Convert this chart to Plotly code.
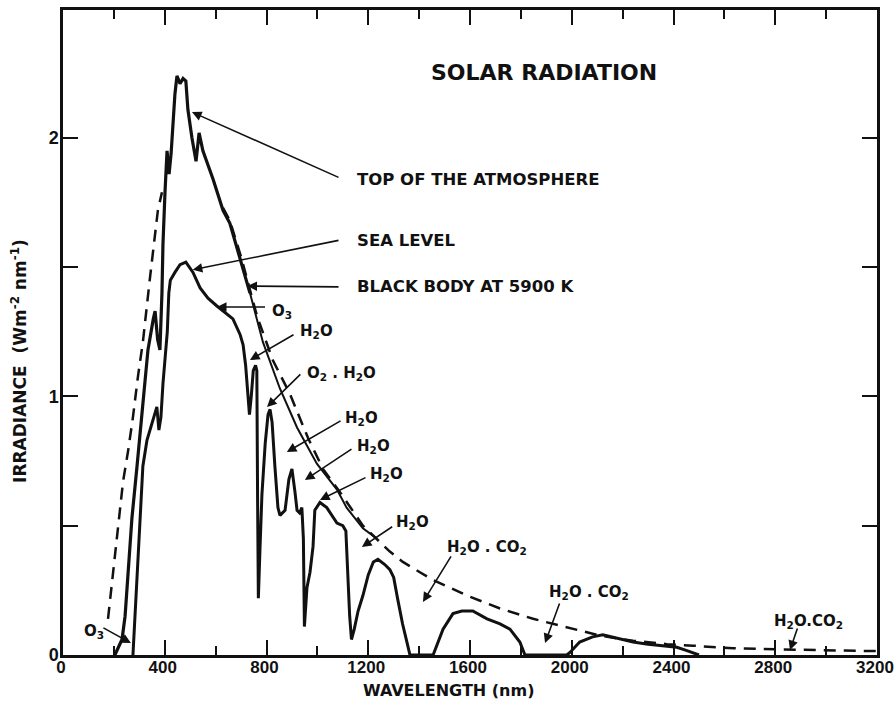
"""
Solar radiation spectrum: top of the atmosphere, sea level and a 5900 K black body.
"""

import plotly.graph_objects as go

# ── data (wavelength in nm, irradiance in W m-2 nm-1) ──

TOA_WL = [204, 232, 244, 256, 271, 291, 310, 322, 334, 355, 362, 372, 381, 389,
          393, 401, 409, 417, 425, 440, 448, 460, 472, 483, 491, 507, 523, 535,
          550, 590, 629, 656, 683, 708, 735, 786, 853, 920, 998, 1077, 1115,
          1179, 1234]
TOA_IRR = [0.0, 0.06, 0.15, 0.34, 0.53, 0.73, 0.92, 1.05, 1.18, 1.30, 1.33, 1.22,
           1.18, 1.40, 1.59, 1.79, 1.95, 1.86, 1.94, 2.17, 2.24, 2.21, 2.23, 2.22,
           2.11, 2.00, 1.91, 2.02, 1.95, 1.84, 1.72, 1.67, 1.58, 1.50, 1.40, 1.21,
           1.03, 0.88, 0.74, 0.64, 0.57, 0.49, 0.45]
TOA_THICK_END = 735  # thick stroke up to here, thin beyond

SEA_WL = [275, 290, 302, 314, 330, 342, 362, 369, 377, 385, 393, 401, 410, 416,
          422, 440, 460, 483, 511, 539, 570, 605, 645, 668, 696, 708, 718, 726,
          733, 740, 748, 757, 762, 765, 768, 774, 782, 795, 806, 814, 822, 833,
          845, 853, 873, 888, 900, 912, 920, 930, 939, 945, 949, 959, 971, 983,
          990, 1010, 1037, 1077, 1100, 1112, 1119, 1127, 1134, 1145, 1160, 1179,
          1200, 1220, 1238, 1265, 1285, 1300, 1315, 1335, 1352, 1364, 1455, 1494,
          1533, 1568, 1611, 1667, 1718, 1757, 1796, 1816, 1981, 1993, 2031, 2082,
          2122, 2176, 2241, 2300, 2374, 2413, 2450, 2477, 2500]
SEA_IRR = [0.0, 0.28, 0.53, 0.73, 0.83, 0.87, 0.94, 0.96, 0.87, 0.92, 1.05, 1.16,
           1.25, 1.40, 1.45, 1.48, 1.51, 1.52, 1.48, 1.42, 1.38, 1.35, 1.32, 1.30,
           1.24, 1.20, 1.12, 1.00, 0.93, 1.00, 1.10, 1.12, 1.10, 0.60, 0.22, 0.40,
           0.62, 0.82, 0.93, 0.95, 0.90, 0.73, 0.57, 0.54, 0.56, 0.68, 0.72, 0.63,
           0.56, 0.55, 0.57, 0.45, 0.11, 0.26, 0.32, 0.42, 0.56, 0.59, 0.57, 0.51,
           0.50, 0.48, 0.30, 0.15, 0.06, 0.10, 0.17, 0.23, 0.31, 0.36, 0.37, 0.35,
           0.33, 0.30, 0.22, 0.12, 0.05, 0.0, 0.0, 0.10, 0.16, 0.17, 0.17, 0.14,
           0.12, 0.10, 0.05, 0.0, 0.0, 0.01, 0.05, 0.07, 0.078, 0.066, 0.05, 0.042,
           0.036, 0.03, 0.018, 0.008, 0.0]

# black body: drawn up to where it meets the TOA curve, hidden under the
# peak, then visible again from the red flank onwards
BB_WL = [177, 193, 212, 236, 256, 275, 295, 314, 342, 373, 389,
         629, 656, 700, 763, 825, 892, 963, 1022, 1089, 1179, 1285, 1336, 1403,
         1455, 1588, 1718, 1848, 1981, 2111, 2241, 2374, 2477, 2635, 2800, 3000,
         3200]
BB_IRR = [0.14, 0.28, 0.47, 0.67, 0.79, 0.92, 1.08, 1.21, 1.46, 1.72, 1.79,
          1.73, 1.68, 1.54, 1.31, 1.14, 1.01, 0.84, 0.72, 0.63, 0.50, 0.40, 0.36,
          0.32, 0.29, 0.23, 0.18, 0.14, 0.108, 0.075, 0.055, 0.042, 0.036, 0.026,
          0.022, 0.018, 0.015]
BB_HIDDEN_AFTER = 389  # gap (under the TOA peak) between this and the next point

X_TICKS = [0, 400, 800, 1200, 1600, 2000, 2400, 2800, 3200]
Y_TICKS = [0, 1, 2]

INK = "#111111"
FONT = "DejaVu Sans"
TICK_FONT = "Liberation Sans"

# labels: (text, x, y, size)   arrows: (tail x, tail y, head x, head y)
LABELS = [
    ("TOP OF THE ATMOSPHERE", 1148, 1.838, 16.5),
    ("SEA LEVEL", 1148, 1.605, 16.5),
    ("BLACK BODY AT 5900 K", 1148, 1.424, 16.5),
    ("O<sub>3</sub>", 812, 1.33, 15),
    ("H<sub>2</sub>O", 922, 1.25, 15),
    ("O<sub>2</sub> . H<sub>2</sub>O", 950, 1.09, 15),
    ("H<sub>2</sub>O", 1100, 0.915, 15),
    ("H<sub>2</sub>O", 1147, 0.808, 15),
    ("H<sub>2</sub>O", 1198, 0.70, 15),
    ("H<sub>2</sub>O", 1303, 0.514, 15),
    ("H<sub>2</sub>O . CO<sub>2</sub>", 1500, 0.414, 15),
    ("H<sub>2</sub>O . CO<sub>2</sub>", 1901, 0.24, 15),
    ("H<sub>2</sub>O.CO<sub>2</sub>", 2789, 0.131, 15),
    ("O<sub>3</sub>", 75, 0.092, 15),
]
ARROWS = [
    (1089, 1.845, 507, 2.10),
    (1089, 1.605, 510, 1.49),
    (1089, 1.424, 725, 1.427),
    (800, 1.346, 605, 1.346),
    (912, 1.242, 735, 1.141),
    (939, 1.091, 802, 0.959),
    (1097, 0.909, 880, 0.785),
    (1140, 0.800, 951, 0.677),
    (1195, 0.689, 1010, 0.600),
    (1300, 0.500, 1175, 0.418),
    (1529, 0.387, 1415, 0.205),
    (1954, 0.205, 1895, 0.046),
    (2889, 0.108, 2858, 0.019),
    (153, 0.108, 267, 0.046),
]


def main():
    fig = go.Figure()

    cut = BB_WL.index(BB_HIDDEN_AFTER) + 1
    dashed = dict(color=INK, width=2.5, dash="12px,8px")
    fig.add_trace(go.Scatter(x=BB_WL[:cut], y=BB_IRR[:cut], mode="lines", line=dashed))
    fig.add_trace(go.Scatter(x=BB_WL[cut:], y=BB_IRR[cut:], mode="lines", line=dashed))

    split = TOA_WL.index(TOA_THICK_END) + 1
    fig.add_trace(go.Scatter(
        x=TOA_WL[:split], y=TOA_IRR[:split], mode="lines",
        line=dict(color=INK, width=3.2),
    ))
    fig.add_trace(go.Scatter(
        x=TOA_WL[split - 1:], y=TOA_IRR[split - 1:], mode="lines",
        line=dict(color=INK, width=2),
    ))
    fig.add_trace(go.Scatter(
        x=SEA_WL, y=SEA_IRR, mode="lines",
        line=dict(color=INK, width=3),
    ))

    annotations = []
    for tx, ty, hx, hy in ARROWS:
        annotations.append(dict(
            x=hx, y=hy, ax=tx, ay=ty, xref="x", yref="y", axref="x", ayref="y",
            text="", showarrow=True, arrowhead=2, arrowsize=1.2,
            arrowwidth=1.6, arrowcolor=INK, standoff=0, startstandoff=0,
        ))
    for text, x, y, size in LABELS:
        annotations.append(dict(
            x=x, y=y, xref="x", yref="y", text=text, showarrow=False,
            xanchor="left", yanchor="middle",
            font=dict(family=FONT, size=size, color=INK, weight="bold"),
        ))
    annotations.append(dict(
        x=1891, y=2.255, xref="x", yref="y", text="SOLAR RADIATION",
        showarrow=False, xanchor="center", yanchor="middle",
        font=dict(family=FONT, size=22, color=INK, weight="bold"),
    ))
    annotations.append(dict(
        x=0.474, y=-0.055, xref="paper", yref="paper", text="WAVELENGTH (nm)",
        showarrow=False, xanchor="center", yanchor="middle",
        font=dict(family=FONT, size=16, color=INK, weight="bold"),
    ))
    annotations.append(dict(
        x=-0.054, y=0.456, xref="paper", yref="paper",
        text="IRRADIANCE  (Wm<sup>-2</sup> nm<sup>-1</sup>)", textangle=-90,
        showarrow=False, xanchor="center", yanchor="middle",
        font=dict(family=FONT, size=17, color=INK, weight="bold"),
    ))

    x_font = dict(family=TICK_FONT, size=17, color=INK, weight="bold")
    y_font = dict(family=TICK_FONT, size=18, color=INK, weight="bold")
    fig.update_xaxes(
        range=[0, 3200], tickvals=X_TICKS, ticktext=[str(v) for v in X_TICKS],
        ticks="inside", ticklen=15, tickwidth=2, tickcolor=INK,
        minor=dict(dtick=200, ticks="inside", ticklen=9, tickwidth=2, tickcolor=INK),
        showline=True, linewidth=2.5, linecolor=INK, mirror="ticks",
        showgrid=False, zeroline=False, tickfont=x_font, automargin=False,
        ticklabelstandoff=-5, ticklabelshift=-2, ticklabeloverflow="allow",
    )
    fig.update_yaxes(
        range=[0, 2.495], tickvals=Y_TICKS, ticktext=[str(v) for v in Y_TICKS],
        ticks="inside", ticklen=15, tickwidth=2, tickcolor=INK,
        minor=dict(dtick=0.5, ticks="inside", ticklen=15, tickwidth=2, tickcolor=INK),
        showline=True, linewidth=2.5, linecolor=INK, mirror="ticks",
        showgrid=False, zeroline=False, tickfont=y_font, automargin=False,
        ticklabelstandoff=-2,
    )
    fig.update_layout(
        width=896, height=713,
        margin=dict(l=63, r=19, t=10, b=58, autoexpand=False),
        paper_bgcolor="white", plot_bgcolor="white",
        showlegend=False, annotations=annotations,
    )
    # drop the page's default body margin so the figure fills the window
    fig.write_html(
        "out.html",
        config={"displayModeBar": False},
        post_script="document.body.style.margin='0';",
    )


if __name__ == "__main__":
    main()
